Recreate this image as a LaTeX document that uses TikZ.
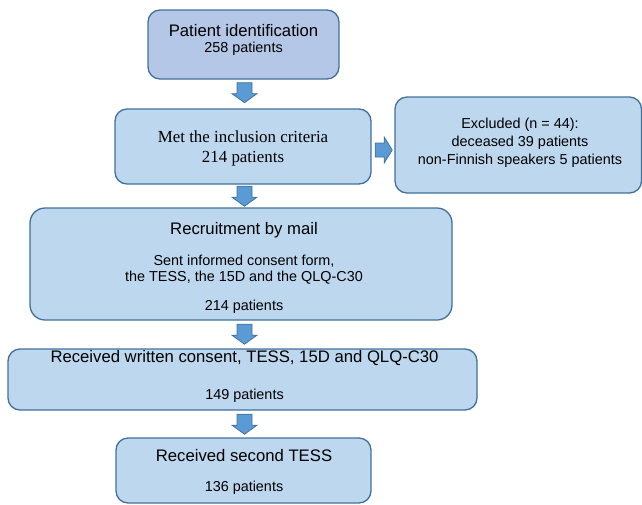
\documentclass[tikz,border=0pt]{standalone}
\usepackage{fontspec}
\setmainfont{Liberation Sans}
\newfontfamily\tnr{Liberation Serif}
\usetikzlibrary{calc}
\definecolor{boxfill}{HTML}{BDD7EE}
\definecolor{topfill}{HTML}{B4C7E7}
\definecolor{edge}{HTML}{41719C}
\definecolor{arrfill}{HTML}{5B9BD5}
\tikzset{
  box/.style={draw=edge, line width=1.3pt, fill=boxfill, rounded corners=12pt, inner sep=0pt},
  big/.style={anchor=base, inner sep=0pt, font=\fontsize{16.7}{19}\selectfont},
  small/.style={anchor=base, inner sep=0pt, font=\fontsize{14.4}{17}\selectfont},
  serif/.style={anchor=base, inner sep=0pt, font=\tnr\fontsize{16.9}{19}\selectfont},
  arrsty/.style={draw=edge, line width=0.8pt, fill=arrfill},
  darr/.pic={\draw[arrsty] (-7.5,0) -- (7.5,0) -- (7.5,11) -- (12.5,11) -- (0,20) -- (-12.5,11) -- (-7.5,11) -- cycle;},
  rarr/.pic={\draw[arrsty] (0,-7) -- (9,-7) -- (9,-13) -- (17,0) -- (9,13) -- (9,7) -- (0,7) -- cycle;}
}
\begin{document}
\begin{tikzpicture}[x=1pt,y=-1pt]
\useasboundingbox (0,0) rectangle (642,504);
% boxes
\draw[box, fill=topfill] (148,10) rectangle (339,79);
\node[box, fill=none, draw=none, minimum width=191pt, minimum height=69pt] (b1) at (243.5,44.5) {};
\draw[box] (115,109) rectangle (371,184);
\node[minimum width=256pt, minimum height=75pt, inner sep=0pt] (b2) at (243,146.5) {};
\draw[box] (395,97) rectangle (641.5,193);
\node[minimum width=246pt, minimum height=96pt, inner sep=0pt] (b3) at (518,145) {};
\draw[box, rounded corners=15pt] (30,208) rectangle (452,320);
\node[minimum width=422pt, minimum height=112pt, inner sep=0pt] (b4) at (241,264) {};
\draw[box] (8,349) rectangle (477,410);
\node[minimum width=469pt, minimum height=61pt, inner sep=0pt] (b5) at (242.5,379.5) {};
\draw[box] (116,438) rectangle (371,503);
\node[minimum width=255pt, minimum height=65pt, inner sep=0pt] (b6) at (243.5,470.5) {};

% texts
\node[big] (t1a) at (243.5,36) {Patient identification};
\node[small] (t1b) at (243.5,52) {258 patients};
\node[serif] (t2a) at (243,142) {Met the inclusion criteria};
\node[serif] (t2b) at (243,162) {214 patients};
\node[small] (t3a) at (520,128) {Excluded (n = 44):};
\node[small] (t3b) at (520,146) {deceased 39 patients};
\node[small] (t3c) at (520,164) {non-Finnish speakers 5 patients};
\node[big] (t4a) at (244,234) {Recruitment by mail};
\node[small] (t4b) at (244,265) {Sent informed consent form,};
\node[small] (t4c) at (244,281) {the TESS, the 15D and the QLQ-C30};
\node[small] (t4d) at (244,310) {214 patients};
\node[big] (t5a) at (244.5,362) {Received written consent, TESS, 15D and QLQ-C30};
\node[small] (t5b) at (244.5,399) {149 patients};
\node[big] (t6a) at (244,461) {Received second TESS};
\node[small] (t6b) at (244,491) {136 patients};

% block arrows
\pic at ($(b1.south)+(1,3)$) {darr};
\pic at ($(b2.south)+(1.5,2)$) {darr};
\pic at ($(b4.south)+(3.5,4)$) {darr};
\pic at ($(b5.south)+(2,4)$) {darr};
\pic at ($(b2.east)+(4,3.5)$) {rarr};
\end{tikzpicture}
\end{document}
